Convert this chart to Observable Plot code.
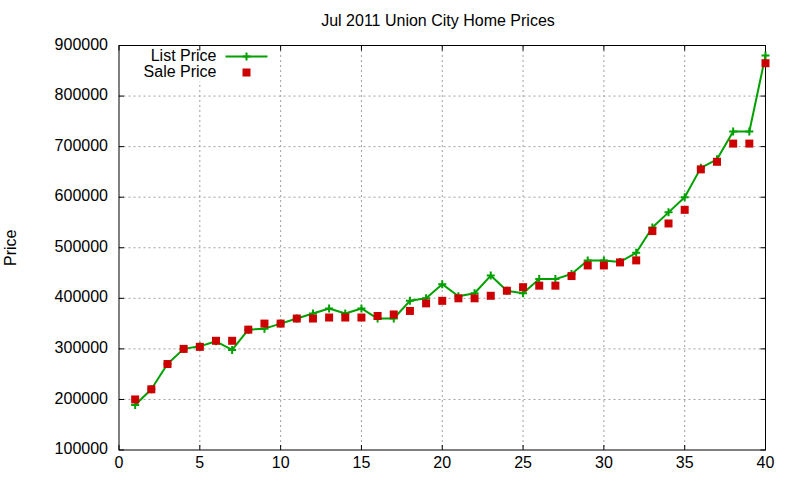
<!DOCTYPE html>
<html>
<head>
<meta charset="utf-8">
<script src="https://cdn.jsdelivr.net/npm/d3@7"></script>
<script src="https://cdn.jsdelivr.net/npm/@observablehq/plot@0.6"></script>
<style>
  html, body { margin: 0; padding: 0; background: #fff; }
  #title {
    width: 800px; height: 32px; box-sizing: border-box;
    padding-top: 11px; padding-left: 76px;
    font-family: "Liberation Sans", Arial, sans-serif; font-size: 16px; line-height: 20px;
    text-align: center; color: #000;
  }
</style>
</head>
<body>
<div id="title">Jul 2011 Union City Home Prices</div>
<div id="chart"></div>
<script>
// ---- data ----
const rank = [1,2,3,4,5,6,7,8,9,10,11,12,13,14,15,16,17,18,19,20,
              21,22,23,24,25,26,27,28,29,30,31,32,33,34,35,36,37,38,39,40];
const listPrice = [189000,220000,270000,300000,305000,315000,298000,338000,340000,350000,
                   360000,370000,380000,370000,380000,360000,360000,395000,400000,428000,
                   404000,410000,445000,415000,410000,438000,438000,448000,475000,475000,
                   472000,490000,540000,570000,600000,658000,675000,730000,730000,880000];
const salePrice = [200000,220000,270000,300000,304000,316000,316000,338000,350000,350000,
                   360000,360000,362000,362000,362000,365000,368000,375000,390000,395000,
                   400000,400000,405000,415000,422000,425000,425000,444000,465000,465000,
                   471000,475000,533000,548000,575000,655000,670000,706000,706000,865000];
const xTicks = [0,5,10,15,20,25,30,35,40];
const yTicks = [100000,200000,300000,400000,500000,600000,700000,800000,900000];
const seriesNames = ["List Price", "Sale Price"];

const listRows = rank.map((x, i) => ({x, price: listPrice[i]}));
const saleRows = rank.map((x, i) => ({x, price: salePrice[i]}));

// ---- symbols ----
const rad = (size) => Math.sqrt(size / Math.PI);
const plusSym = {draw(c, s) { const r = rad(s); c.moveTo(-r, 0); c.lineTo(r, 0); c.moveTo(0, -r); c.lineTo(0, r); }};
const squareSym = {draw(c, s) { const r = rad(s); c.rect(-r, -r, 2 * r, 2 * r); }};
const hlineSym = {draw(c, s) { const r = rad(s); c.moveTo(-r, 0); c.lineTo(r, 0); }};
const boxSym = {draw(c) { c.rect(-66, -18, 132, 36); }};
const tickUp = {draw(c, s) { c.moveTo(0, 0); c.lineTo(0, -rad(s)); }};
const tickDown = {draw(c, s) { c.moveTo(0, 0); c.lineTo(0, rad(s)); }};
const tickRight = {draw(c, s) { c.moveTo(0, 0); c.lineTo(rad(s), 0); }};
const tickLeft = {draw(c, s) { c.moveTo(0, 0); c.lineTo(-rad(s), 0); }};

const GREEN = "#00a000";
const RED = "#cc0000";
const GRID = "#a0a0a0";
const xInner = xTicks.slice(1, -1);
const yInner = yTicks.slice(1, -1);

const chart = Plot.plot({
  width: 800,
  height: 448,
  marginLeft: 118.5,
  marginRight: 35,
  marginTop: 13,
  marginBottom: 30.5,
  style: {fontFamily: "'Liberation Sans', Arial, sans-serif", fontSize: "16px", color: "#000", background: "#fff"},
  x: {domain: [0, 40]},
  y: {domain: [100000, 900000]},
  marks: [
    Plot.gridX(xInner, {stroke: GRID, strokeOpacity: 1, strokeDasharray: "2,3"}),
    Plot.gridY(yInner, {stroke: GRID, strokeOpacity: 1, strokeDasharray: "2,3"}),
    // opaque key background
    Plot.dot([0], {frameAnchor: "top-left", dx: 89, dy: 18, symbol: boxSym, fill: "white", stroke: "none"}),
    Plot.frame({stroke: "#000", strokeWidth: 1}),
    // inward ticks on all four sides
    Plot.dot(xTicks, {x: d => d, frameAnchor: "bottom", symbol: tickUp, r: 5, stroke: "#000", fill: "none", strokeWidth: 1}),
    Plot.dot(xTicks, {x: d => d, frameAnchor: "top", symbol: tickDown, r: 5, stroke: "#000", fill: "none", strokeWidth: 1}),
    Plot.dot(yTicks, {y: d => d, frameAnchor: "left", symbol: tickRight, r: 5, stroke: "#000", fill: "none", strokeWidth: 1}),
    Plot.dot(yTicks, {y: d => d, frameAnchor: "right", symbol: tickLeft, r: 5, stroke: "#000", fill: "none", strokeWidth: 1}),
    Plot.axisX(xTicks, {tickSize: 0, tickPadding: 7, label: null, fontSize: 16}),
    Plot.axisY(yTicks, {tickSize: 0, tickPadding: 11, tickFormat: "d", dy: -1, fontSize: 16,
                        label: "Price", labelAnchor: "center", labelArrow: "none", labelOffset: 114}),
    // List price line + markers
    Plot.line(listRows, {x: "x", y: "price", stroke: GREEN, strokeWidth: 2}),
    Plot.dot(listRows, {x: "x", y: "price", symbol: plusSym, r: 4, stroke: GREEN, fill: "none", strokeWidth: 2}),
    // Sale price squares
    Plot.dot(saleRows, {x: "x", y: "price", symbol: squareSym, r: 4, fill: RED, stroke: "none"}),
    // key
    Plot.text([seriesNames[0]], {text: d => d, frameAnchor: "top-left", dx: 97.5, dy: 15.5, textAnchor: "end", lineAnchor: "bottom", fontSize: 16, fill: "#000"}),
    Plot.text([seriesNames[1]], {text: d => d, frameAnchor: "top-left", dx: 97.5, dy: 31.5, textAnchor: "end", lineAnchor: "bottom", fontSize: 16, fill: "#000"}),
    Plot.dot([0], {frameAnchor: "top-left", dx: 127.5, dy: 11, symbol: hlineSym, r: 21, stroke: GREEN, fill: "none", strokeWidth: 2}),
    Plot.dot([0], {frameAnchor: "top-left", dx: 127.5, dy: 11, symbol: plusSym, r: 4, stroke: GREEN, fill: "none", strokeWidth: 2}),
    Plot.dot([0], {frameAnchor: "top-left", dx: 127.5, dy: 27, symbol: squareSym, r: 4, fill: RED, stroke: "none"})
  ]
});
document.getElementById("chart").appendChild(chart);
</script>
</body>
</html>
